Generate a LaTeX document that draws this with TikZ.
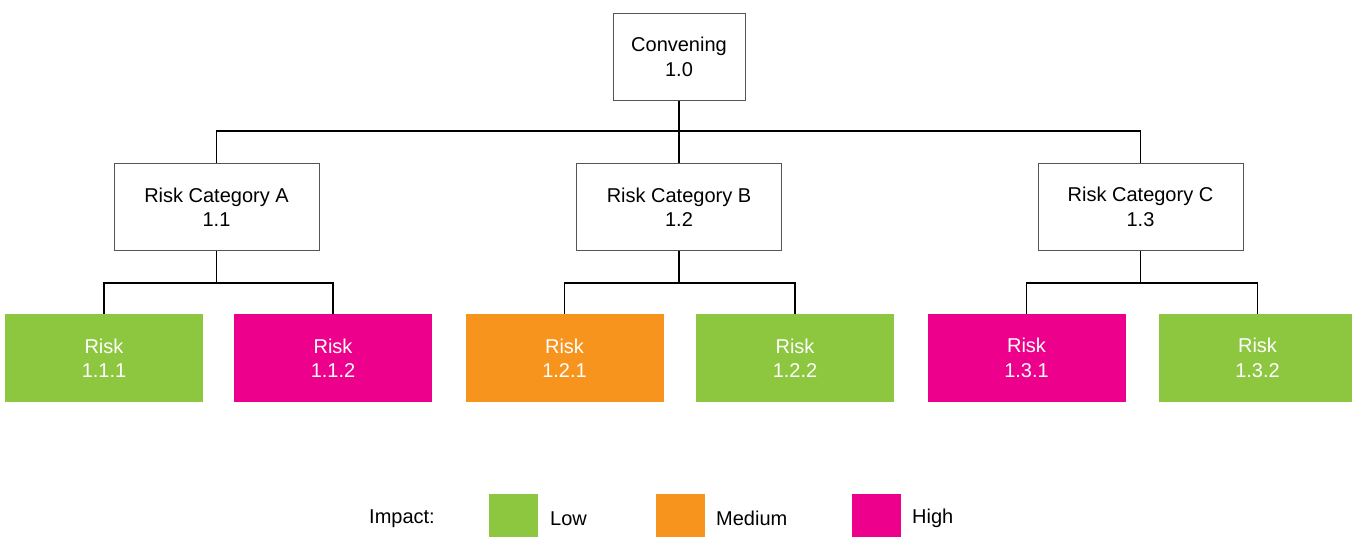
\documentclass[tikz,border=0pt]{standalone}
\usepackage{fontspec}
\setmainfont{Liberation Sans}
\definecolor{lowgreen}{HTML}{8DC63F}
\definecolor{medorange}{HTML}{F7941D}
\definecolor{highpink}{HTML}{EC008C}
\definecolor{boxline}{HTML}{555555}
\begin{document}
\begin{tikzpicture}[x=1pt,y=-1pt,
  every node/.style={font=\fontsize{20}{24.5}\selectfont, inner sep=0pt},
  headbox/.style={draw=boxline, line width=0.9pt, fill=white, align=center,
    minimum width=132pt, minimum height=87pt},
  catbox/.style={draw=boxline, line width=0.9pt, fill=white, align=center,
    minimum width=205pt, minimum height=87pt},
  riskbox/.style={align=center, text=white, minimum width=198pt, minimum height=88pt},
  low/.style={riskbox, fill=lowgreen},
  medium/.style={riskbox, fill=medorange},
  high/.style={riskbox, fill=highpink},
  swatch/.style={minimum width=49pt, minimum height=43pt},
  link/.style={draw=black, line width=1.2pt}]
\useasboundingbox (0,0) rectangle (1352,536);

% root
\node[headbox] (root) at (679,57) {Convening\\1.0};

% categories
\node[catbox] (catA) at (216.5,207) {Risk Category A\\1.1};
\node[catbox] (catB) at (679,207) {Risk Category B\\1.2};
\node[catbox] (catC) at (1140.5,207) {Risk Category C\\1.3};

% risks
\node[low]    (r111) at (104,358) {Risk\\1.1.1};
\node[high]   (r112) at (333,358) {Risk\\1.1.2};
\node[medium] (r121) at (564.5,358) {Risk\\1.2.1};
\node[low]    (r122) at (795,358) {Risk\\1.2.2};
\node[high]   (r131) at (1026.5,358) {Risk\\1.3.1};
\node[low]    (r132) at (1257.5,358) {Risk\\1.3.2};

% connectors: root to categories
\coordinate (busTop) at (679,131);
\draw[link] (root.south) -- (catB.north);
\draw[link] (catA.north) |- (busTop) -| (catC.north);

% connectors: categories to risks
\draw[link] (catA.south) -- ++(0,32) coordinate (busA);
\draw[link] (r111.north) |- (busA) -| (r112.north);
\draw[link] (catB.south) -- ++(0,32) coordinate (busB);
\draw[link] (r121.north) |- (busB) -| (r122.north);
\draw[link] (catC.south) -- ++(0,32) coordinate (busC);
\draw[link] (r131.north) |- (busC) -| (r132.north);

% legend
\node[anchor=west] (impact) at (369,518.5) {Impact:};
\node[swatch, fill=lowgreen]   (swLow)  at (513.5,515) {};
\node[anchor=west] (lblLow) at (550,518.5) {Low};
\node[swatch, fill=medorange]  (swMed)  at (680.5,515) {};
\node[anchor=west] (lblMed) at (716,518.5) {Medium};
\node[swatch, fill=highpink]   (swHigh) at (876.5,515) {};
\node[anchor=west] (lblHigh) at (912,518.5) {High};
\end{tikzpicture}
\end{document}
